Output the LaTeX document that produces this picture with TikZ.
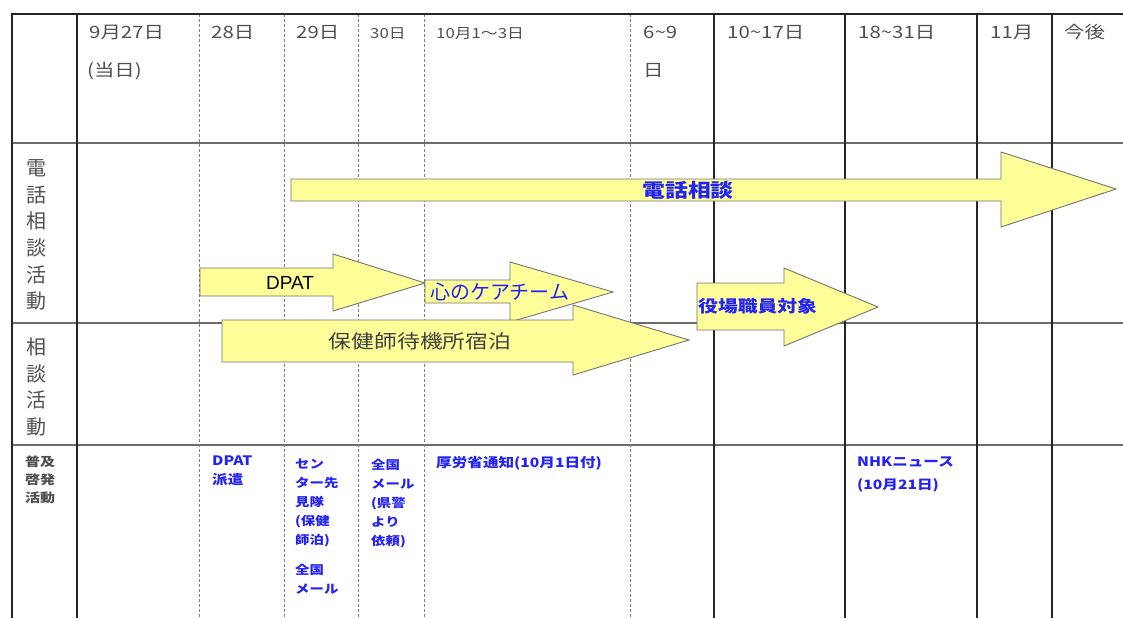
\documentclass[tikz,border=0pt]{standalone}
\usepackage{fontspec}
\setmainfont{Noto Sans CJK JP}
\newfontfamily\hdfont[FakeStretch=1.2]{Noto Sans CJK JP}
\newfontfamily\latinfont{Liberation Sans}
\definecolor{arrowyellow}{RGB}{255,255,153}
\definecolor{hdgray}{RGB}{80,80,80}
\definecolor{txtblue}{RGB}{35,35,245}
\tikzset{
  frameline/.style={draw=black!85, line width=2.4pt},
  dashcol/.style={draw=gray, dash pattern=on 3pt off 2pt, line width=0.9pt},
  rowline/.style={draw=gray!85!black, line width=1.4pt},
  yarrow/.style={fill=arrowyellow, draw=black!55, line width=0.9pt, line join=miter},
  hdr/.style={anchor=base west, inner sep=0pt, text=hdgray, font=\hdfont\fontsize{17}{20}\selectfont},
  hdrs/.style={anchor=base west, inner sep=0pt, text=hdgray, font=\hdfont\fontsize{14}{17}\selectfont},
  rowlab/.style={inner sep=0pt, text=hdgray, align=center, font=\fontsize{20}{26.7}\selectfont},
  bluetxt/.style={anchor=north west, inner sep=0pt, text=txtblue, align=left, font=\hdfont\bfseries\fontsize{13}{18.5}\selectfont},
  bluesm/.style={anchor=north west, inner sep=0pt, text=txtblue, align=left, font=\hdfont\bfseries\fontsize{12}{19}\selectfont},
}
\begin{document}
\begin{tikzpicture}[x=1pt,y=-1pt]
\useasboundingbox (0,0) rectangle (1123,618);
\fill[white] (0,0) rectangle (1123,618);
% horizontal row lines
\draw[rowline] (12,143) -- (1123,143);
\draw[rowline] (12,323) -- (1123,323);
\draw[rowline] (12,445) -- (1123,445);
% dashed column lines
\foreach \x in {199,284,358,424,630} \draw[dashcol] (\x,14) -- (\x,618);
% solid column lines
\foreach \x in {77,714,845,977,1052} \draw[frameline] (\x,14) -- (\x,618);
\draw[frameline] (12,618) -- (12,14) -- (1123,14);
% header texts
\node[hdr] (h1) at (89,39) {9月27日};
\node[hdr] (h1b) at (87,76) {(当日)};
\node[hdr] (h2) at (211,39) {28日};
\node[hdr] (h3) at (296,39) {29日};
\node[hdrs] (h4) at (370,38) {30日};
\node[hdrs] (h5) at (436,38) {10月1～3日};
\node[hdr] (h6) at (643,39) {6\textasciitilde 9};
\node[hdr] (h6b) at (643,76) {日};
\node[hdr] (h7) at (727,39) {10\textasciitilde 17日};
\node[hdr] (h8) at (858,39) {18\textasciitilde 31日};
\node[hdr] (h9) at (990,39) {11月};
\node[hdr] (h10) at (1064,39) {今後};
% row labels
\node[rowlab] (r1) at (36,235) {電\\話\\相\\談\\活\\動};
\node[rowlab] (r2) at (36,387) {相\\談\\活\\動};
\node[inner sep=0pt, text=hdgray, align=left, font=\hdfont\bfseries\fontsize{12.5}{18}\selectfont, anchor=north west] (r3) at (25,456) {普及\\啓発\\活動};
% arrows
\draw[yarrow] (291,179) -- (1001,179) -- (1001,152) -- (1116,189) -- (1001,227) -- (1001,201) -- (291,201) -- cycle;
\node[text=txtblue, inner sep=0pt, font=\hdfont\bfseries\fontsize{19}{22}\selectfont] (phone) at (688,190) {電話相談};
\draw[yarrow] (200,268) -- (333,268) -- (333,254) -- (425,283) -- (333,311) -- (333,296) -- (200,296) -- cycle;
\node[inner sep=0pt, font=\latinfont\fontsize{19}{22}\selectfont] (dpat) at (290,283) {DPAT};
\draw[yarrow] (425,280) -- (510,280) -- (510,262) -- (613,292) -- (510,322) -- (510,303) -- (425,303) -- cycle;
\draw[yarrow] (222,320) -- (573,320) -- (573,305) -- (689,340) -- (573,375) -- (573,362) -- (222,362) -- cycle;
\node[text=hdgray!80!black, inner sep=0pt, font=\hdfont\fontsize{19}{22}\selectfont] (hoken) at (420,341) {保健師待機所宿泊};
\node[anchor=west, text=txtblue, inner sep=0pt, font=\fontsize{20}{22}\selectfont] (kokoro) at (430,292) {心のケアチーム};
\draw[yarrow] (697,283) -- (784,283) -- (784,268) -- (878,307) -- (784,346) -- (784,330) -- (697,330) -- cycle;
\node[anchor=west, text=txtblue, inner sep=0pt, font=\hdfont\bfseries\fontsize{16.5}{20}\selectfont] (yakuba) at (698,306) {役場職員対象};
% outreach texts
\node[bluetxt] (b1) at (212,456) {DPAT\\派遣};
\node[bluesm] (b2) at (295,459) {セン\\ター先\\見隊\\(保健\\師泊)};
\node[bluesm] (b3) at (295,564) {全国\\メール};
\node[bluesm] (b4) at (371,459) {全国\\メール\\(県警\\より\\依頼)};
\node[bluetxt] (b5) at (436,456) {厚労省通知(10月1日付)};
\node[bluetxt, font=\hdfont\bfseries\fontsize{13}{23}\selectfont] (b6) at (857,456) {NHKニュース\\(10月21日)};
\end{tikzpicture}
\end{document}
